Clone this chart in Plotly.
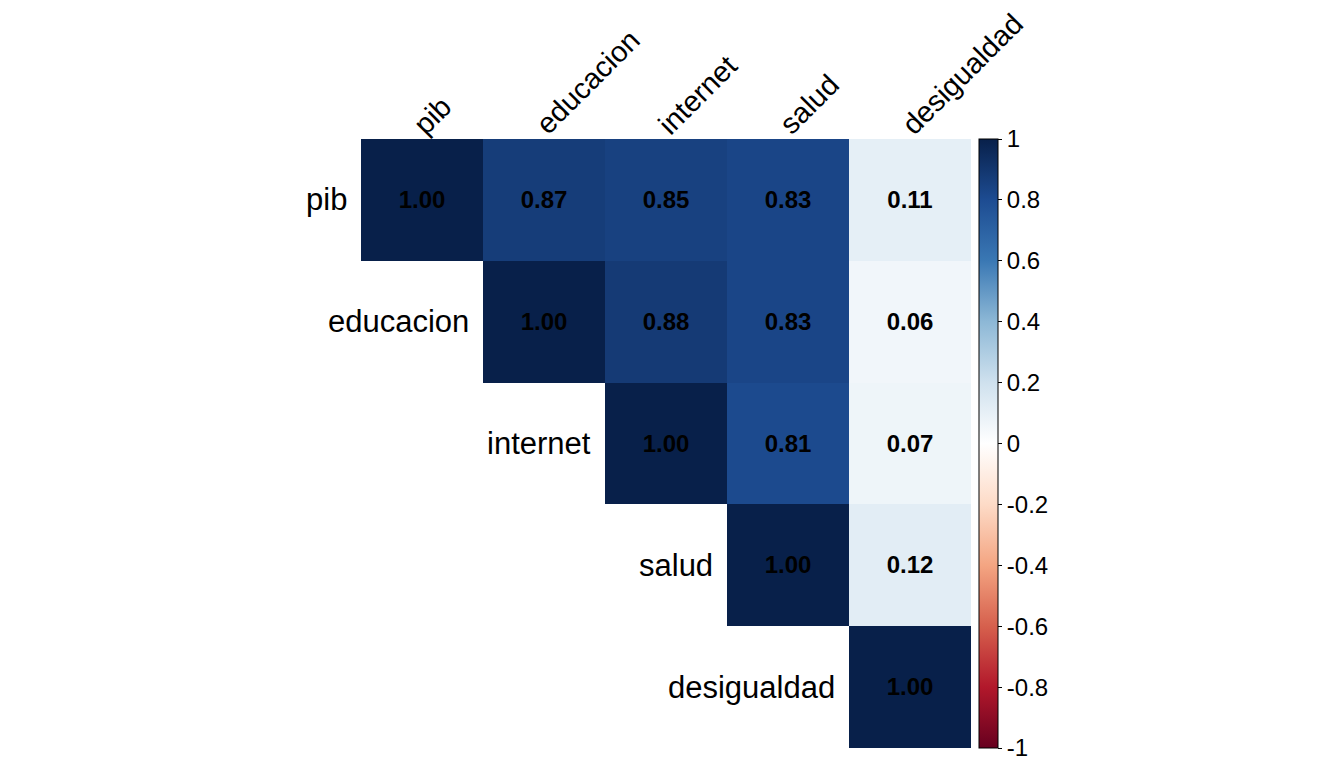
import plotly.graph_objects as go

# variables and correlation matrix (upper triangle shown)
variables = ["pib", "educacion", "internet", "salud", "desigualdad"]
corr = [
    [1.00, 0.87, 0.85, 0.83, 0.11],
    [0.87, 1.00, 0.88, 0.83, 0.06],
    [0.85, 0.88, 1.00, 0.81, 0.07],
    [0.83, 0.83, 0.81, 1.00, 0.12],
    [0.11, 0.06, 0.07, 0.12, 1.00],
]
bar_ticks = [1, 0.8, 0.6, 0.4, 0.2, 0, -0.2, -0.4, -0.6, -0.8, -1]
bar_labels = ["1", "0.8", "0.6", "0.4", "0.2", "0", "-0.2", "-0.4", "-0.6", "-0.8", "-1"]

# red-white-blue palette from -1 to 1, as it shows in the picture
palette = ["#67001F", "#B2182B", "#D6604D", "#F4A582", "#FDDBC7", "#FFFFFF",
           "#CFE1EE", "#8DB8D6", "#3A78B4", "#1D4C92", "#08204A"]
colorscale = [[i / (len(palette) - 1), c] for i, c in enumerate(palette)]

n = len(variables)
z = [[corr[i][j] if j >= i else None for j in range(n)] for i in range(n)]
txt = [[f"{corr[i][j]:.2f}" if j >= i else "" for j in range(n)] for i in range(n)]

W, H = 1344, 768
off = 8  # page body margin
left, right, top, bottom = 361 - off, 971 - off, 139 - off, 748 - off
FONT = "Liberation Sans, Arial"

fig = go.Figure()
fig.add_trace(go.Heatmap(
    z=z, x=list(range(n)), y=list(range(n)),
    text=txt, texttemplate="%{text}",
    textfont=dict(family=FONT, size=24, color="black", weight="bold"),
    colorscale=colorscale, zmin=-1, zmax=1,
    hoverongaps=False,
    colorbar=dict(
        x=(979 - off) / W, xanchor="left", xpad=0,
        y=1 - top / H, yanchor="top", ypad=0,
        lenmode="pixels", len=bottom - top,
        thicknessmode="pixels", thickness=19,
        outlinecolor="black", outlinewidth=1,
        tickvals=bar_ticks, ticktext=bar_labels,
        ticks="outside", ticklen=4, tickcolor="black",
        tickfont=dict(family=FONT, size=24, color="black"),
    ),
))

annotations = []
for i, name in enumerate(variables):
    # row label, left of the diagonal cell
    annotations.append(dict(
        x=i - 0.5, y=i, xref="x", yref="y", text=name, showarrow=False,
        xanchor="right", yanchor="middle", xshift=-12,
        font=dict(family=FONT, size=31, color="black"),
    ))
    # column label, rotated
    annotations.append(dict(
        x=i, y=-0.5, xref="x", yref="y", text=name, showarrow=False,
        textangle=-45, xanchor="left", yanchor="bottom", xshift=-17, yshift=-4,
        font=dict(family=FONT, size=29, color="black"),
    ))

fig.update_layout(
    width=W, height=H,
    margin=dict(l=0, r=0, t=0, b=0),
    paper_bgcolor="white", plot_bgcolor="white",
    showlegend=False,
    annotations=annotations,
    xaxis=dict(domain=[left / W, right / W], range=[-0.5, n - 0.5],
               showgrid=False, zeroline=False, showticklabels=False, ticks=""),
    yaxis=dict(domain=[1 - bottom / H, 1 - top / H], range=[n - 0.5, -0.5],
               showgrid=False, zeroline=False, showticklabels=False, ticks=""),
)

fig.write_html("out.html")
